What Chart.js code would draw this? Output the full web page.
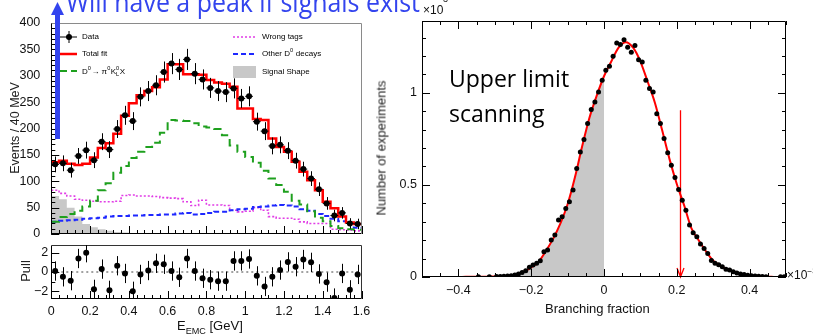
<!DOCTYPE html>
<html>
<head>
<meta charset="utf-8">
<script src="https://cdn.jsdelivr.net/npm/chart.js@4.4.1/dist/chart.umd.min.js"></script>
<style>
  html, body { margin: 0; padding: 0; background: #fff; }
  body { position: relative; width: 813px; height: 334px; overflow: hidden;
         font-family: "Liberation Sans", Arial, sans-serif; color: #111; }
  canvas { position: absolute; }
  #fitChart { left: 0; top: 0; }
  #pullChart { left: 0; top: 240px; }
  #ulChart { left: 370px; top: 0; }
  .txt { position: absolute; white-space: nowrap; }
  .vt { position: absolute; white-space: nowrap; transform: translate(-50%, -50%) rotate(-90deg); color: #222; }
  #headline { left: 66px; top: -13px; font: 28px/28px "Open Sans", sans-serif; color: rgb(51, 68, 238);
              transform-origin: 0 0; }
  #ulText { left: 449px; top: 61px; font: 23px/35px "Open Sans", sans-serif; color: #000; }
  sub, sup { font-size: 70%; line-height: 0; }
</style>
</head>
<body>
<canvas id="fitChart" width="370" height="240"></canvas>
<canvas id="pullChart" width="370" height="94"></canvas>
<canvas id="ulChart" width="443" height="334"></canvas>

<svg class="txt" style="left:0;top:0" width="80" height="145">
  <polygon points="57.5,2 51,15 64,15" fill="rgb(51,68,238)"/>
  <rect x="55" y="12" width="5" height="127" fill="rgb(51,68,238)"/>
</svg>
<div id="headline" class="txt">Will have a peak if signals exist</div>

<div class="vt" style="left:15px;top:128px;font-size:12.5px">Events / 40 MeV</div>
<div class="vt" style="left:25px;top:271px;font-size:13px">Pull</div>
<div class="txt" style="left:177px;top:318px;font-size:13px">E<sub>EMC</sub> [GeV]</div>

<div class="txt" style="left:423px;top:3px;font-size:12px">×10</div>
<div class="txt" style="left:443px;top:-6px;font-size:9px">3</div>
<div class="txt" style="left:787px;top:268px;font-size:12px">×10<sup>−3</sup></div>
<div class="vt" style="left:381px;top:148px;font-size:13px">Number of experiments</div>
<div class="txt" style="left:545px;top:301px;font-size:13px">Branching fraction</div>
<div id="ulText" class="txt">Upper limit<br>scanning</div>

<script>
Chart.defaults.font.family = '"Liberation Sans", Arial, sans-serif';
Chart.defaults.color = '#000';
Chart.defaults.animation = false;

// ---------- left: E_EMC fit (40 MeV bins) ----------
const binCenters = [0.02,0.06,0.10,0.14,0.18,0.22,0.26,0.30,0.34,0.38,0.42,0.46,0.50,0.54,0.58,0.62,0.66,0.70,0.74,0.78,
                    0.82,0.86,0.90,0.94,0.98,1.02,1.06,1.10,1.14,1.18,1.22,1.26,1.30,1.34,1.38,1.42,1.46,1.50,1.54,1.58];
const binHalf = 0.02;
const dataCounts = [132,134,121,148,159,140,175,160,199,225,214,260,271,282,307,323,312,331,304,293,
                    277,271,269,276,257,261,213,195,167,169,158,139,123,105,85,58,35,40,20,19];
const dataErr = [15,15,14,15,16,15,16,16,17,18,17,18,19,19,20,20,20,20,20,19,
                 19,19,19,19,18,19,17,17,16,16,16,15,14,14,13,12,11,11,10,10];
const totalFit = [136,139,133,131,133,145,163,172,190,224,248,263,271,278,293,322,322,303,303,302,
                  292,287,285,279,238,238,218,216,181,165,156,137,118,102,83,61,49,33,22,19];
const d0Signal = [23,32,38,44,52,63,83,96,116,129,144,156,165,173,192,216,215,214,210,204,
                  202,199,187,168,156,146,135,120,105,93,80,63,56,43,31,24,15,11,9,8];
const wrongTags = [83,77,72,66,64,62,61,61,62,73,74,72,72,71,69,68,67,61,54,64,
                   55,55,54,45,42,43,50,45,33,30,30,28,23,20,20,20,9,8,7,6];
const otherD0 = [23,25,26,27,29,30,31,33,34,34,35,35,36,36,37,37,39,40,37,38,
                 40,42,42,45,47,48,51,52,54,55,54,52,47,44,38,34,29,24,20,12];
const signalShape = [72,66,50,33,19,13,9,6,4,3,2,2,1,1,0,0,0,0,0,0,
                     0,0,0,0,0,0,0,0,0,0,0,0,0,0,0,0,0,0,0,0];
const pullValues = [0.1,-0.5,-0.9,1.4,2.0,-1.8,0.3,-1.9,0.65,-0.15,-2.0,-0.25,0.15,0.9,0.8,0.1,-0.55,1.4,0.1,-0.65,
                    -0.8,-0.95,-0.95,1.15,1.15,1.35,-0.4,-1.5,-0.5,0.2,1.05,0.55,1.3,1.0,-0.2,-1.05,-2.7,-0.15,-1.85,-0.25];
const eTicks = [0,0.2,0.4,0.6,0.8,1,1.2,1.4,1.6];
const countTicks = [0,50,100,150,200,250,300,350,400];
const pullTicks = [-2,0,2];

// ---------- right: upper limit scan (x10^3 experiments) ----------
const bfX = [-0.345,-0.315,-0.295,-0.285,-0.275,-0.265,-0.255,-0.245,-0.235,-0.225,-0.215,-0.205,-0.195,-0.185,-0.175,
             -0.165,-0.155,-0.145,-0.135,-0.125,-0.115,-0.105,-0.095,-0.085,-0.075,-0.065,-0.055,-0.045,-0.035,-0.025,
             -0.015,-0.005,0.005,0.015,0.025,0.035,0.045,0.055,0.065,0.075,0.085,0.095,0.105,0.115,0.125,
             0.135,0.145,0.155,0.165,0.175,0.185,0.195,0.205,0.215,0.225,0.235,0.245,0.255,0.265,0.275,
             0.285,0.295,0.305,0.315,0.325,0.335,0.345,0.355,0.365,0.375,0.385,0.395,0.405,0.415,0.425,
             0.435,0.445,0.485,0.495];
const bfY = [0.002,0.002,0.003,0.003,0.004,0.005,0.007,0.011,0.016,0.025,0.034,0.053,0.065,0.074,0.088,
             0.137,0.146,0.201,0.228,0.309,0.327,0.372,0.408,0.472,0.589,0.679,0.746,0.833,0.909,0.950,
             1.005,1.068,1.122,1.144,1.198,1.270,1.263,1.288,1.248,1.221,1.257,1.180,1.167,1.068,1.023,
             1.005,0.887,0.833,0.752,0.674,0.607,0.540,0.475,0.417,0.363,0.282,0.240,0.218,0.179,0.155,
             0.128,0.090,0.074,0.066,0.056,0.042,0.038,0.029,0.022,0.016,0.013,0.009,0.007,0.005,0.004,
             0.003,0.002,0.002,0.002];
const curveX = [-0.50,-0.48,-0.46,-0.44,-0.42,-0.40,-0.38,-0.36,-0.34,-0.32,-0.30,-0.28,-0.26,-0.24,-0.22,-0.20,-0.18,
                -0.16,-0.14,-0.12,-0.10,-0.08,-0.06,-0.04,-0.02,0.00,0.02,0.04,0.06,0.08,0.10,0.12,0.14,0.16,
                0.18,0.20,0.22,0.24,0.26,0.28,0.30,0.32,0.34,0.36,0.38,0.40,0.42,0.44,0.46,0.48,0.50];
const curveY = [0,0,0,0,0,0,0.001,0.001,0.002,0.002,0.003,0.004,0.007,0.014,0.029,0.052,0.082,
                0.14,0.207,0.29,0.395,0.54,0.71,0.865,0.985,1.09,1.17,1.245,1.275,1.245,1.17,1.06,0.945,0.795,
                0.64,0.505,0.39,0.265,0.20,0.14,0.088,0.062,0.04,0.026,0.015,0.008,0.004,0.002,0.001,0,0];
const upperLimit = 0.21;
const arrowTop = 0.905;
const bfTicks = [-0.4,-0.2,0,0.2,0.4];
const nTicks = [0,0.5,1];

// ---------- helpers ----------
function histPoints(vals) {
  const pts = vals.map((v, i) => ({x: binCenters[i] - binHalf, y: v}));
  pts.push({x: binCenters[vals.length - 1] + binHalf, y: vals[vals.length - 1]});
  return pts;
}
function minorTicks(from, to, step) {
  const out = [];
  for (let v = from; v <= to + 1e-9; v += step) out.push(Math.round(v * 1e6) / 1e6);
  return out;
}
const fmt = v => (v < 0 ? '\u2212' + Math.abs(v) : String(v));
function fixAxis(size, vertical) {
  return s => {
    if (vertical) s.width = size; else s.height = size;
    s.paddingLeft = s.paddingRight = s.paddingTop = s.paddingBottom = 0;
  };
}
function setTicks(list) {
  return s => { s.ticks = list.map(v => ({value: v})); };
}

// frame + inward ROOT style ticks
const rootFrame = {
  id: 'rootFrame',
  afterDatasetsDraw(chart, args, o) {
    const {ctx, chartArea: a} = chart;
    const xs = chart.scales.x, ys = chart.scales.y;
    ctx.save();
    ctx.lineWidth = 1;
    ctx.strokeStyle = '#000';
    ctx.beginPath();
    const xt = (vals, len) => vals.forEach(v => {
      const px = Math.round(xs.getPixelForValue(v)) + 0.5;
      ctx.moveTo(px, a.bottom); ctx.lineTo(px, a.bottom - len);
      if (o.mirror) { ctx.moveTo(px, a.top); ctx.lineTo(px, a.top + len); }
    });
    const yt = (vals, len) => vals.forEach(v => {
      const py = Math.round(ys.getPixelForValue(v)) + 0.5;
      ctx.moveTo(a.left, py); ctx.lineTo(a.left + len, py);
      if (o.mirror) { ctx.moveTo(a.right, py); ctx.lineTo(a.right - len, py); }
    });
    xt(o.xMajor, 8); xt(o.xMinor, 4);
    yt(o.yMajor, 8); yt(o.yMinor, 4);
    ctx.stroke();
    // frame: left & bottom black, top & right in frameColor
    const L = Math.round(a.left) + 0.5, R = Math.round(a.right) - 0.5;
    const T = Math.round(a.top) + 0.5, B = Math.round(a.bottom) - 0.5;
    ctx.beginPath(); ctx.moveTo(L, T); ctx.lineTo(L, B); ctx.lineTo(R, B); ctx.stroke();
    ctx.strokeStyle = o.frameColor || '#000';
    ctx.beginPath(); ctx.moveTo(L, T); ctx.lineTo(R, T); ctx.lineTo(R, B); ctx.stroke();
    ctx.restore();
  }
};

// vertical (and horizontal) error bars
const errorBars = {
  id: 'errorBars',
  afterDatasetsDraw(chart) {
    const {ctx, chartArea: a} = chart;
    const xs = chart.scales.x, ys = chart.scales.y;
    ctx.save();
    ctx.beginPath(); ctx.rect(a.left, a.top, a.width, a.height); ctx.clip();
    chart.data.datasets.forEach(ds => {
      if (ds.errY === undefined) return;
      ctx.strokeStyle = '#000';
      ctx.lineWidth = 1;
      ctx.beginPath();
      ds.data.forEach((p, j) => {
        const e = Array.isArray(ds.errY) ? ds.errY[j] : ds.errY;
        const px = Math.round(xs.getPixelForValue(p.x)) + 0.5, py = ys.getPixelForValue(p.y);
        ctx.moveTo(px, ys.getPixelForValue(p.y - e)); ctx.lineTo(px, ys.getPixelForValue(p.y + e));
        if (ds.errX) { ctx.moveTo(xs.getPixelForValue(p.x - ds.errX), py); ctx.lineTo(xs.getPixelForValue(p.x + ds.errX), py); }
      });
      ctx.stroke();
    });
    ctx.restore();
  }
};

// text with super/subscripts for the legend
function richText(ctx, x, y, parts, size) {
  parts.forEach(p => {
    if (p.sup || p.sub) {
      ctx.font = (size * 0.7) + 'px "Liberation Sans", Arial, sans-serif';
      const w0 = p.sup ? ctx.measureText(p.sup).width : 0;
      const w1 = p.sub ? ctx.measureText(p.sub).width : 0;
      if (p.sup) ctx.fillText(p.sup, x, y - size * 0.4);
      if (p.sub) ctx.fillText(p.sub, x, y + size * 0.3);
      x += Math.max(w0, w1) + 0.5;
    } else {
      ctx.font = size + 'px "Liberation Sans", Arial, sans-serif';
      ctx.fillText(p.t, x, y);
      x += ctx.measureText(p.t).width;
    }
  });
}

const fitLegend = {
  id: 'fitLegend',
  afterDraw(chart) {
    const ctx = chart.ctx;
    ctx.save();
    ctx.textBaseline = 'middle';
    ctx.fillStyle = '#000';
    const seg = (x0, x1, y, color, width, dash) => {
      ctx.strokeStyle = color; ctx.lineWidth = width; ctx.setLineDash(dash);
      ctx.beginPath(); ctx.moveTo(x0, y); ctx.lineTo(x1, y); ctx.stroke();
    };
    // Data
    seg(60, 77, 37, '#000', 1, []);
    ctx.beginPath(); ctx.moveTo(69, 31); ctx.lineTo(69, 43); ctx.stroke();
    ctx.beginPath(); ctx.arc(69, 37, 3, 0, Math.PI * 2); ctx.fill();
    richText(ctx, 82, 37, [{t: 'Data'}], 8);
    seg(60, 77, 54, 'rgb(255,0,0)', 2.5, []);
    richText(ctx, 82, 54, [{t: 'Total fit'}], 8);
    seg(60, 77, 71, 'rgb(30,160,30)', 2, [7, 4]);
    ctx.setLineDash([]);
    richText(ctx, 82, 72, [{t: 'D'}, {sup: '0'}, {t: '\u2192 \u03c0'}, {sup: '0'}, {t: 'K'}, {sup: '0', sub: 'L'}, {t: 'X'}], 8);
    seg(233, 256, 37, 'rgb(225,60,230)', 1.5, [2, 2]);
    ctx.setLineDash([]);
    richText(ctx, 262, 37, [{t: 'Wrong tags'}], 8);
    seg(233, 256, 54, 'rgb(30,40,255)', 2, [5, 3]);
    ctx.setLineDash([]);
    richText(ctx, 262, 54, [{t: 'Other D'}, {sup: '0'}, {t: ' decays'}], 8);
    ctx.fillStyle = 'rgb(200,200,200)';
    ctx.fillRect(233, 66, 23, 12);
    ctx.fillStyle = '#000';
    richText(ctx, 262, 72, [{t: 'Signal Shape'}], 8);
    ctx.restore();
  }
};

const ulArrow = {
  id: 'ulArrow',
  beforeDatasetsDraw(chart) {
    const {ctx} = chart;
    const xs = chart.scales.x, ys = chart.scales.y;
    const px = Math.round(xs.getPixelForValue(upperLimit)) + 0.5;
    const top = ys.getPixelForValue(arrowTop), bot = ys.getPixelForValue(0);
    ctx.save();
    ctx.strokeStyle = 'rgb(255,0,0)';
    ctx.lineWidth = 1.3;
    ctx.beginPath();
    ctx.moveTo(px, top); ctx.lineTo(px, bot);
    ctx.moveTo(px - 3.5, bot - 9); ctx.lineTo(px, bot); ctx.lineTo(px + 3.5, bot - 9);
    ctx.stroke();
    ctx.restore();
  }
};

const histLine = (vals, color, width, dash, extra) => Object.assign({
  data: histPoints(vals), stepped: true, borderColor: color, borderWidth: width,
  borderDash: dash, pointRadius: 0, fill: false
}, extra || {});

// ---------- chart 1: fit ----------
new Chart(document.getElementById('fitChart'), {
  type: 'line',
  data: {
    datasets: [
      { data: dataCounts.map((v, i) => ({x: binCenters[i], y: v})), showLine: false,
        pointRadius: 3, pointBackgroundColor: '#000', pointBorderWidth: 0, errY: dataErr, errX: binHalf },
      histLine(totalFit, 'rgb(255,0,0)', 2.5, []),
      histLine(d0Signal, 'rgb(30,160,30)', 2, [8, 5]),
      histLine(otherD0, 'rgb(30,40,255)', 2, [5, 3]),
      histLine(wrongTags, 'rgb(225,60,230)', 1.6, [2, 2]),
      histLine(signalShape, 'rgba(0,0,0,0)', 0, [], { fill: 'origin', backgroundColor: 'rgb(200,200,200)' })
    ]
  },
  options: {
    responsive: false,
    layout: { padding: { top: 23, right: 8.5, bottom: 6, left: 0 } },
    plugins: {
      legend: { display: false }, tooltip: { enabled: false },
      rootFrame: { xMajor: eTicks, xMinor: minorTicks(0, 1.6, 0.04), yMajor: countTicks,
                   yMinor: minorTicks(0, 400, 10), frameColor: '#8a8a8a' }
    },
    scales: {
      x: { type: 'linear', min: 0, max: 1.6, display: false },
      y: { min: 0, max: 400,
           afterFit: fixAxis(51.3, true), afterBuildTicks: setTicks(countTicks),
           grid: { display: false }, border: { display: false },
           ticks: { padding: 3, font: { size: 12.5 }, color: '#111' } }
    }
  },
  plugins: [rootFrame, errorBars, fitLegend]
});

// ---------- chart 2: pull ----------
new Chart(document.getElementById('pullChart'), {
  type: 'line',
  data: {
    datasets: [
      { data: pullValues.map((v, i) => ({x: binCenters[i], y: v})), showLine: false,
        pointRadius: 3, pointBackgroundColor: '#000', pointBorderWidth: 0, errY: 1 },
      { data: [{x: 0, y: 0}, {x: 1.6, y: 0}], borderColor: '#444', borderWidth: 1,
        borderDash: [2, 3], pointRadius: 0 }
    ]
  },
  options: {
    responsive: false,
    layout: { padding: { top: 5, right: 8.5, bottom: 0, left: 0 } },
    plugins: {
      legend: { display: false }, tooltip: { enabled: false },
      rootFrame: { xMajor: eTicks, xMinor: minorTicks(0, 1.6, 0.04), yMajor: pullTicks,
                   yMinor: [-1, 1], frameColor: '#333' }
    },
    scales: {
      x: { type: 'linear', min: 0, max: 1.6,
           afterFit: fixAxis(35, false), afterBuildTicks: setTicks(eTicks),
           grid: { display: false, drawTicks: false }, border: { display: false },
           ticks: { padding: 5, maxRotation: 0, autoSkip: false, font: { size: 12.5 }, color: '#111', callback: fmt } },
      y: { min: -2.8, max: 2.8,
           afterFit: fixAxis(51.3, true), afterBuildTicks: setTicks(pullTicks),
           grid: { display: false, drawTicks: false }, border: { display: false },
           ticks: { padding: 3, font: { size: 12.5 }, color: '#111', callback: fmt } }
    }
  },
  plugins: [rootFrame, errorBars]
});

// ---------- chart 3: upper limit ----------
const curvePts = curveX.map((x, i) => ({x, y: curveY[i]}));
new Chart(document.getElementById('ulChart'), {
  type: 'line',
  data: {
    datasets: [
      { data: bfX.map((x, i) => ({x, y: bfY[i]})), showLine: false,
        pointRadius: 2.5, pointBackgroundColor: '#000', pointBorderWidth: 0 },
      { data: curvePts, borderColor: 'rgb(255,0,0)', borderWidth: 2, pointRadius: 0,
        cubicInterpolationMode: 'monotone' },
      { data: curvePts.filter(p => p.x <= 0), borderWidth: 0, borderColor: 'rgba(0,0,0,0)', pointRadius: 0,
        cubicInterpolationMode: 'monotone', fill: 'origin', backgroundColor: 'rgb(200,200,200)' }
    ]
  },
  options: {
    responsive: false,
    layout: { padding: { top: 21, right: 27, bottom: 0, left: 0 } },
    plugins: {
      legend: { display: false }, tooltip: { enabled: false },
      rootFrame: { xMajor: bfTicks, xMinor: minorTicks(-0.5, 0.5, 0.05), yMajor: nTicks,
                   yMinor: minorTicks(0, 1.3, 0.1), mirror: true, frameColor: '#000' }
    },
    scales: {
      x: { type: 'linear', min: -0.5, max: 0.5,
           afterFit: fixAxis(57, false), afterBuildTicks: setTicks(bfTicks),
           grid: { display: false, drawTicks: false }, border: { display: false },
           ticks: { padding: 6, maxRotation: 0, autoSkip: false, font: { size: 12.5 }, color: '#111', callback: fmt } },
      y: { min: 0, max: 1.39,
           afterFit: fixAxis(52, true), afterBuildTicks: setTicks(nTicks),
           grid: { display: false, drawTicks: false }, border: { display: false },
           ticks: { padding: 5, font: { size: 12.5 }, color: '#111', callback: fmt } }
    }
  },
  plugins: [ulArrow, rootFrame]
});

// squeeze the headline to the width it has in the picture
const head = document.getElementById('headline');
head.style.transform = 'scaleX(' + (354 / head.getBoundingClientRect().width) + ')';
</script>
</body>
</html>
